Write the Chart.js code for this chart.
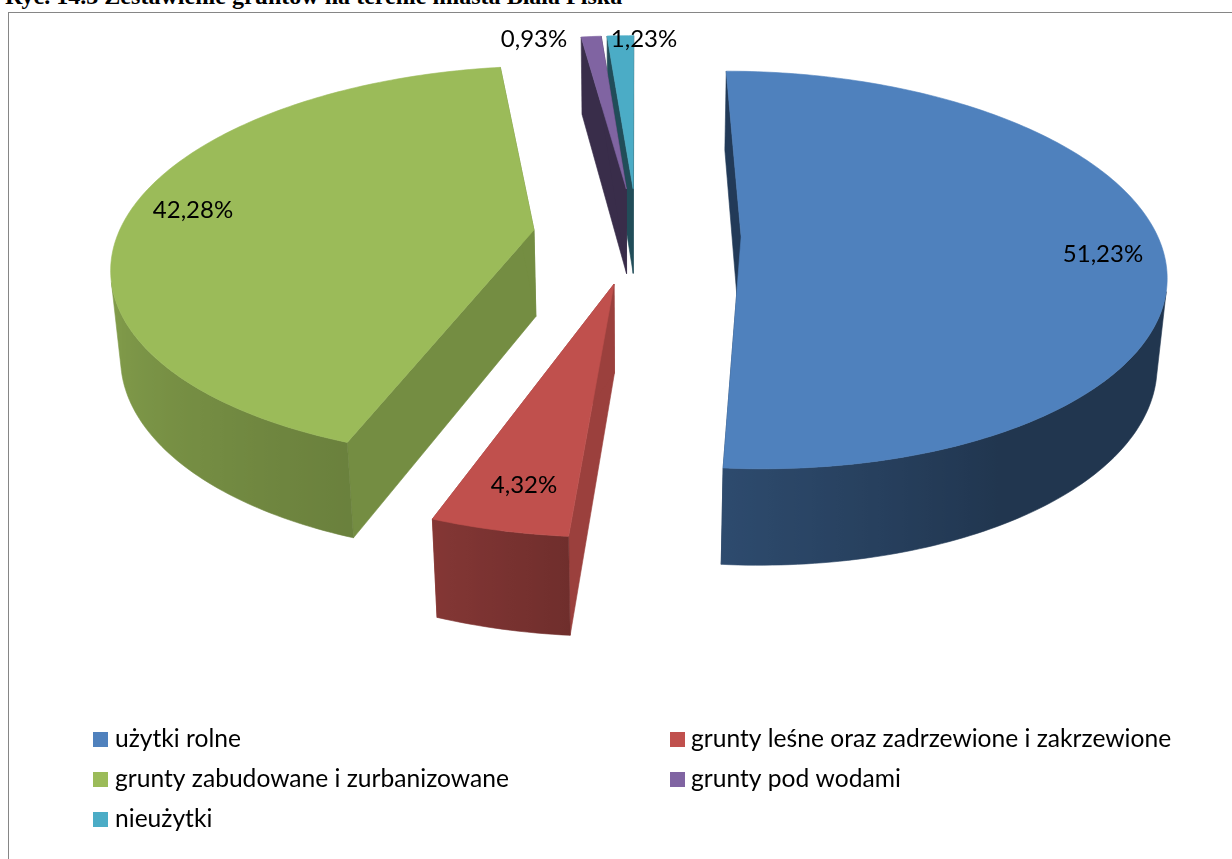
<!DOCTYPE html>
<html>
<head>
<meta charset="utf-8">
<style>
html, body { margin: 0; padding: 0; background: #fff; overflow: hidden; }
#title { position: absolute; left: 5px; top: -17px; font: bold 24.05px "Liberation Serif", serif; white-space: nowrap; color: #000; }
#frame { position: absolute; left: 8px; top: 12px; width: 1300px; height: 900px; border: 1.5px solid #868686; }
canvas { position: absolute; left: 0; top: 0; }
</style>
<script src="https://cdn.jsdelivr.net/npm/chart.js@4"></script>
</head>
<body>
<div id="title">Ryc. 14.3 Zestawienie gruntów na terenie miasta Biała Piska</div>
<div id="frame"></div>
<canvas id="pieChart" width="1232" height="859"></canvas>
<script>
const categories = ['użytki rolne', 'grunty leśne oraz zadrzewione i zakrzewione', 'grunty zabudowane i zurbanizowane', 'grunty pod wodami', 'nieużytki'];
const shares = [51.23, 4.32, 42.28, 0.93, 1.23];
const topColors = ['#4f81bd', '#c0504d', '#9bbb59', '#8064a2', '#4bacc6'];
const wallColors = ['#223a58', '#9b403d', '#748d42', '#392d4a', '#214d59'];

// where the value labels and legend entries sit on the page
const labelSpots = [[1103, 254], [524, 485], [193, 210], [534, 39], [644, 39]];
const legendSpots = [[93, 739], [670, 739], [93, 779], [670, 779], [93, 819]];

// camera used for the tilted, exploded pie (radius = 1)
const cam = { cx: 637, cy: 235, F: 2218, D: 5.33, sin: 0.463, cos: 0.886 };
const explode = 0.25;
const thickness = 0.215;

function project(X, Y, Z) {
    const zc = cam.D - Y * cam.cos - Z * cam.sin;
    return [cam.cx + cam.F * X / zc, cam.cy + cam.F * (Y * cam.sin - Z * cam.cos) / zc];
}

// the wall height changes less with distance than the top does
function wallHeight(Y) {
    return 870 / (10.03 - Y);
}

// side walls get darker towards the front right
function sideShade(deg) {
    const stops = [[0, 0.42], [150, 0.42], [184, 0.58], [200, 0.69], [270, 0.89], [360, 0.89]];
    for (let i = 1; i < stops.length; i++) {
        if (deg <= stops[i][0]) {
            const t = (deg - stops[i - 1][0]) / (stops[i][0] - stops[i - 1][0]);
            return stops[i - 1][1] + t * (stops[i][1] - stops[i - 1][1]);
        }
    }
    return 0.89;
}

function shadeColor(hex, k) {
    const n = parseInt(hex.slice(1), 16);
    return `rgb(${(n >> 16) * k | 0}, ${((n >> 8) & 255) * k | 0}, ${(n & 255) * k | 0})`;
}

function fillPoly(ctx, pts, color) {
    ctx.beginPath();
    pts.forEach((p, i) => i ? ctx.lineTo(p[0], p[1]) : ctx.moveTo(p[0], p[1]));
    ctx.closePath();
    ctx.fillStyle = color;
    ctx.strokeStyle = color;
    ctx.lineWidth = 0.6;
    ctx.fill();
    ctx.stroke();
}

function drawSlice(ctx, arc, i) {
    const a0 = arc.startAngle + Math.PI / 2;
    const a1 = arc.endAngle + Math.PI / 2;
    const mid = (a0 + a1) / 2;
    const ox = Math.sin(mid) * explode;
    const oy = -Math.cos(mid) * explode;
    const steps = Math.max(2, Math.ceil((a1 - a0) / (Math.PI / 180)));
    const rim = [];
    for (let k = 0; k <= steps; k++) {
        const a = a0 + (a1 - a0) * k / steps;
        rim.push({ a, X: ox + Math.sin(a), Y: oy - Math.cos(a) });
    }
    const top = r => project(r.X, r.Y, 0);
    const bot = r => [project(r.X, r.Y, -thickness)[0], top(r)[1] + wallHeight(r.Y)];
    const apex = { X: ox, Y: oy };
    const apexTop = top(apex);
    const apexBot = bot(apex);

    // inner walls
    [rim[0], rim[steps]].forEach(r => {
        fillPoly(ctx, [apexTop, top(r), bot(r), apexBot], wallColors[i]);
    });

    // outer wall, only the part turned to the viewer
    const front = rim.filter(r => Math.sin(r.a) * -r.X - Math.cos(r.a) * (cam.D * cam.cos - r.Y) > 0);
    if (front.length > 1) {
        const xs = front.map(r => top(r)[0]);
        const xMin = Math.min(...xs);
        const xMax = Math.max(...xs);
        const grad = ctx.createLinearGradient(xMin, 0, xMax, 0);
        front.forEach((r, k) => {
            grad.addColorStop((xs[k] - xMin) / (xMax - xMin), shadeColor(topColors[i], sideShade(r.a * 180 / Math.PI)));
        });
        fillPoly(ctx, front.map(top).concat(front.map(bot).reverse()), grad);
    }

    fillPoly(ctx, [apexTop].concat(rim.map(top)), topColors[i]);
}

const pie3d = {
    id: 'pie3d',
    beforeDatasetDraw(chart, args) {
        const ctx = chart.ctx;
        const arcs = chart.getDatasetMeta(args.index).data;
        ctx.save();
        // back to front, purple goes over the teal wall
        [2, 1, 0, 4, 3].forEach(i => drawSlice(ctx, arcs[i], i));
        ctx.restore();
        return false;
    },
    afterDraw(chart) {
        const ctx = chart.ctx;
        ctx.save();
        ctx.textBaseline = 'middle';
        ctx.textAlign = 'center';
        ctx.fillStyle = '#000';
        ctx.font = '24px Lato, sans-serif';
        shares.forEach((v, i) => {
            ctx.fillText(v.toFixed(2).replace('.', ',') + '%', labelSpots[i][0], labelSpots[i][1]);
        });
        ctx.textAlign = 'left';
        ctx.font = '24.6px Lato, sans-serif';
        categories.forEach((name, i) => {
            const [x, y] = legendSpots[i];
            ctx.fillStyle = topColors[i];
            ctx.fillRect(x, y - 7, 15, 15);
            ctx.fillStyle = '#000';
            ctx.fillText(name, x + (x > 600 ? 21 : 22), y);
        });
        ctx.restore();
    }
};

new Chart(document.getElementById('pieChart').getContext('2d'), {
    type: 'pie',
    data: {
        labels: categories,
        datasets: [{ data: shares, backgroundColor: topColors, borderWidth: 0 }]
    },
    options: {
        responsive: false,
        animation: false,
        plugins: { legend: { display: false }, tooltip: { enabled: false } }
    },
    plugins: [pie3d]
});
</script>
</body>
</html>
